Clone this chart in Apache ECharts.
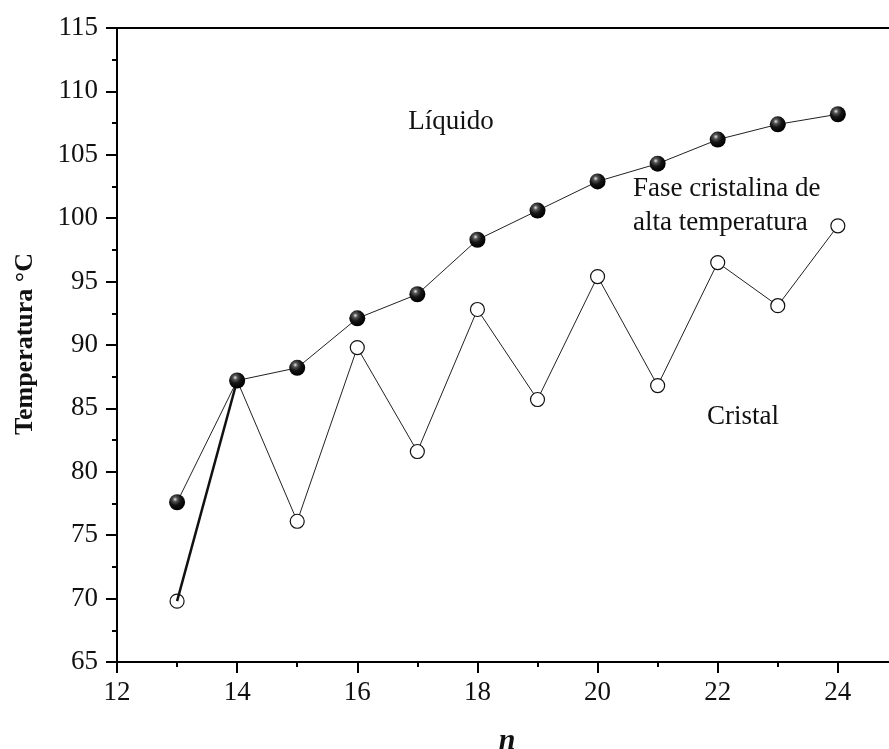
<!DOCTYPE html>
<html><head><meta charset="utf-8">
<script src="https://cdn.jsdelivr.net/npm/echarts@6/dist/echarts.min.js"></script>
<style>html,body{margin:0;padding:0;background:#fff}#c{width:889px;height:749px}</style>
</head><body><div id="c"></div>
<script>
const nValues = [13,14,15,16,17,18,19,20,21,22,23,24];
const liquidTemp = [77.6,87.2,88.2,92.1,94.0,98.3,100.6,102.9,104.3,106.2,107.4,108.2];
const crystalTemp = [69.8,87.2,76.1,89.8,81.6,92.8,85.7,95.4,86.8,96.5,93.1,99.4];
const xTicks = [12,14,16,18,20,22,24];
const yTicks = [65,70,75,80,85,90,95,100,105,110,115];

const serif = '"Liberation Serif","DejaVu Serif",serif';
const sphere = {type:'radial',x:0.38,y:0.32,r:0.65,colorStops:[
  {offset:0,color:'#e8e8e8'},{offset:0.22,color:'#555'},{offset:0.55,color:'#151515'},{offset:1,color:'#000'}]};

const chart = echarts.init(document.getElementById('c'));
chart.setOption({
  animation:false,
  backgroundColor:'#fff',
  grid:{left:117,top:28,right:-69,bottom:87,outerBoundsMode:'none',containLabel:false,
    show:true,borderColor:'#000',borderWidth:2,backgroundColor:'transparent'},
  xAxis:{type:'value',min:12,max:26,interval:2,
    axisLine:{lineStyle:{color:'#000',width:2}},
    axisTick:{show:true,length:11,lineStyle:{color:'#000',width:2}},
    minorTick:{show:true,splitNumber:2,length:5,lineStyle:{color:'#000',width:2}},
    splitLine:{show:false},
    axisLabel:{margin:17,color:'#111',fontFamily:serif,fontSize:27,
      formatter:v=>xTicks.includes(v)?String(v):''}},
  yAxis:{type:'value',min:65,max:115,interval:5,
    axisLine:{lineStyle:{color:'#000',width:2}},
    axisTick:{show:true,length:11,lineStyle:{color:'#000',width:2}},
    minorTick:{show:true,splitNumber:2,length:5,lineStyle:{color:'#000',width:2}},
    splitLine:{show:false},
    axisLabel:{margin:19,color:'#111',fontFamily:serif,fontSize:27,
      formatter:v=>yTicks.includes(v)?String(v):''}},
  series:[
    {type:'line',data:nValues.map((n,i)=>[n,crystalTemp[i]]),
      lineStyle:{color:'#222',width:1},
      symbol:'circle',symbolSize:14,
      itemStyle:{color:'#fff',borderColor:'#111',borderWidth:1.2},z:2},
    {type:'line',data:[[nValues[0],crystalTemp[0]],[nValues[1],liquidTemp[1]]],
      lineStyle:{color:'#111',width:2.5},symbol:'none',z:3},
    {type:'line',data:nValues.map((n,i)=>[n,liquidTemp[i]]),
      lineStyle:{color:'#222',width:1},
      symbol:'circle',symbolSize:16,
      itemStyle:{color:sphere,borderWidth:0},z:4}
  ],
  graphic:[
    {type:'text',x:25,y:344,rotation:Math.PI/2,
      style:{text:'Temperatura °C',font:'bold 26px '+serif,fill:'#111',textAlign:'center',textVerticalAlign:'middle'}},
    {type:'text',x:507,y:741,style:{text:'n',font:'italic bold 30px '+serif,fill:'#111',textAlign:'center',textVerticalAlign:'middle'}},
    {type:'text',x:451,y:122,style:{text:'Líquido',font:'27px '+serif,fill:'#111',textAlign:'center',textVerticalAlign:'middle'}},
    {type:'text',x:633,y:189,style:{text:'Fase cristalina de',font:'27px '+serif,fill:'#111',textAlign:'left',textVerticalAlign:'middle'}},
    {type:'text',x:633,y:223,style:{text:'alta temperatura',font:'27px '+serif,fill:'#111',textAlign:'left',textVerticalAlign:'middle'}},
    {type:'text',x:743,y:417,style:{text:'Cristal',font:'27px '+serif,fill:'#111',textAlign:'center',textVerticalAlign:'middle'}}
  ]
});
</script></body></html>
